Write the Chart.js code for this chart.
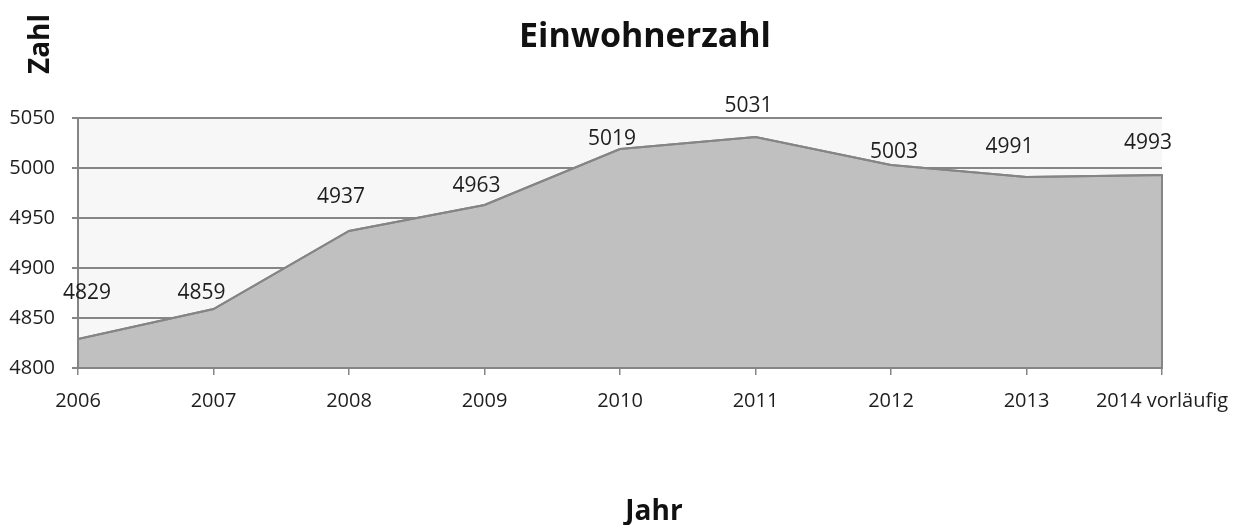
<!DOCTYPE html>
<html>
<head>
<meta charset="utf-8">
<script src="https://cdn.jsdelivr.net/npm/chart.js@4"></script>
<style>
  html, body { margin: 0; background: #fff; }
  #wrap { width: 1244px; height: 525px; }
</style>
</head>
<body>
<div id="wrap"><canvas id="chart"></canvas></div>
<script>
// Einwohnerzahl data
const years = ['2006', '2007', '2008', '2009', '2010', '2011', '2012', '2013', '2014 vorläufig'];
const population = [4829, 4859, 4937, 4963, 5019, 5031, 5003, 4991, 4993];
const yMin = 4800;
const yMax = 5050;
const yStep = 50;

// where Excel put each value label, relative to its point (dx, dy)
const labelShift = [[9, -46], [-12, -16], [-8, -34], [-8, -19], [-8, -10], [-7, -31], [3, -13], [-17, -30], [-14, -32]];

const chartDecor = {
  id: 'chartDecor',
  beforeDraw(chart) {
    const { ctx, chartArea: a } = chart;
    ctx.save();
    ctx.fillStyle = '#f7f7f7';
    ctx.fillRect(a.left, a.top, a.right - a.left, a.bottom - a.top);
    ctx.restore();
  },
  afterDatasetsDraw(chart) {
    const { ctx } = chart;
    const pts = chart.getDatasetMeta(0).data;
    const base = chart.scales.y.getPixelForValue(yMin);

    // outline of the whole area shape
    ctx.save();
    ctx.strokeStyle = '#858585';
    ctx.lineWidth = 2;
    ctx.beginPath();
    ctx.moveTo(pts[0].x, base);
    pts.forEach(p => ctx.lineTo(p.x, p.y));
    ctx.lineTo(pts[pts.length - 1].x, base);
    ctx.closePath();
    ctx.stroke();

    // value labels
    ctx.fillStyle = '#1e1e1e';
    ctx.font = '21px "Open Sans"';
    ctx.textAlign = 'center';
    ctx.textBaseline = 'middle';
    pts.forEach((p, i) => {
      const [dx, dy] = labelShift[i];
      ctx.fillText(String(population[i]), p.x + dx, p.y + dy);
    });
    ctx.restore();
  },
  afterDraw(chart) {
    const { ctx } = chart;
    ctx.save();
    ctx.fillStyle = '#111';
    ctx.textAlign = 'center';
    ctx.textBaseline = 'alphabetic';

    // chart title
    ctx.font = 'bold 34px "Open Sans"';
    ctx.fillText('Einwohnerzahl', 645, 47);

    // x axis title
    ctx.font = 'bold 28px "Open Sans"';
    ctx.fillText('Jahr', 654, 520);

    // y axis title, rotated, top left
    ctx.translate(49, 44);
    ctx.rotate(-Math.PI / 2);
    ctx.font = 'bold 28px "Open Sans"';
    ctx.fillText('Zahl', 0, 0);
    ctx.restore();
  }
};

new Chart(document.getElementById('chart'), {
  type: 'line',
  data: {
    labels: years,
    datasets: [{
      data: population,
      fill: 'start',
      backgroundColor: '#c0c0c0',
      borderColor: '#858585',
      borderWidth: 2,
      pointRadius: 0,
      tension: 0
    }]
  },
  options: {
    responsive: true,
    maintainAspectRatio: false,
    animation: false,
    layout: { padding: { top: 118, left: 0, right: 82, bottom: 0 } },
    plugins: {
      legend: { display: false },
      title: { display: false },
      tooltip: { enabled: false }
    },
    scales: {
      x: {
        offset: false,
        grid: { drawOnChartArea: false, drawTicks: true, tickLength: 7, color: '#858585', lineWidth: 1.5 },
        border: { display: true, color: '#858585', width: 2 },
        ticks: { color: '#1e1e1e', font: { family: 'Open Sans', size: 20 }, padding: 14, maxRotation: 0, autoSkip: false },
        afterFit(scale) { scale.height = 157; }
      },
      y: {
        min: yMin,
        max: yMax,
        grid: { color: '#868686', lineWidth: 2, tickLength: 6 },
        border: { display: true, color: '#858585', width: 2 },
        ticks: {
          stepSize: yStep,
          color: '#1e1e1e',
          font: { family: 'Open Sans', size: 20 },
          padding: 17,
          callback: v => String(v)
        },
        afterFit(scale) { scale.width = 78; }
      }
    }
  },
  plugins: [chartDecor]
});
</script>
</body>
</html>
